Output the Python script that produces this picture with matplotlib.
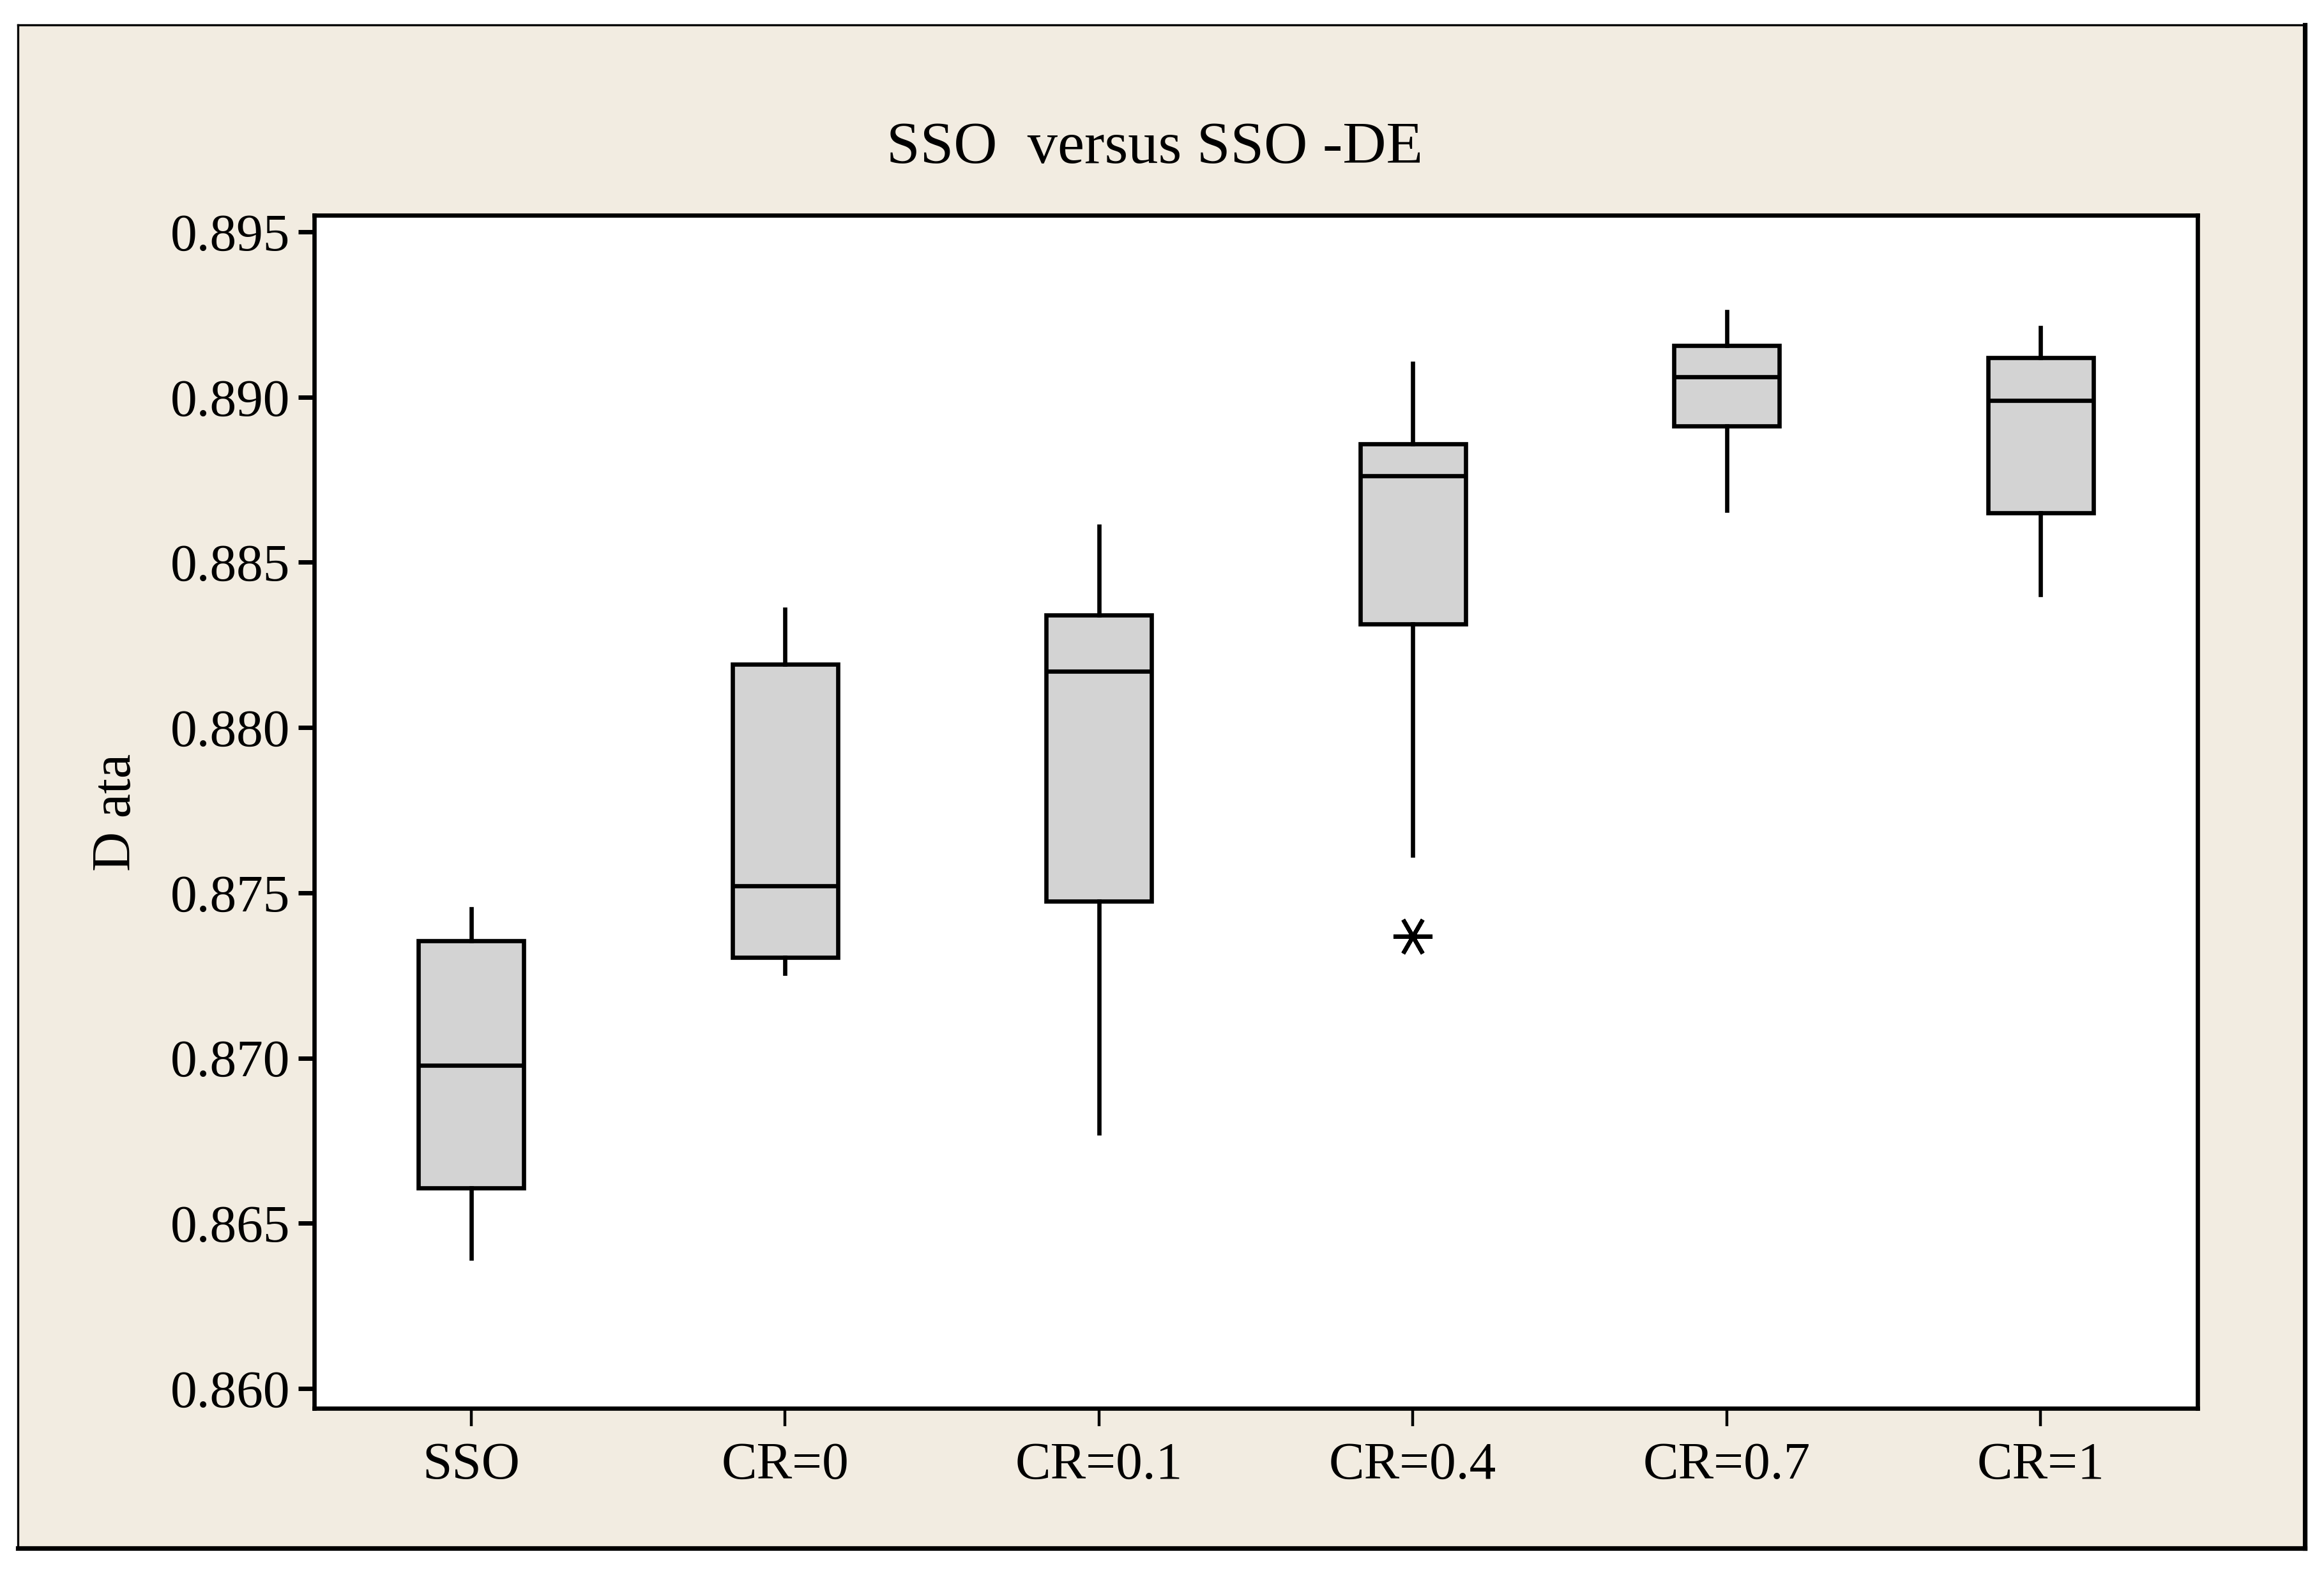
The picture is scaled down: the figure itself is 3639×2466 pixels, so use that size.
import matplotlib
matplotlib.use("Agg")
import matplotlib.pyplot as plt
from matplotlib.lines import Line2D
from matplotlib.patches import Rectangle

# ---- data ----
categories = ["SSO", "CR=0", "CR=0.1", "CR=0.4", "CR=0.7", "CR=1"]
whisker_low = [0.86395, 0.87256, 0.86772, 0.87614, 0.88658, 0.88402]
q1 = [0.86606, 0.87305, 0.87475, 0.88313, 0.88913, 0.88649]
median = [0.86978, 0.87520, 0.88170, 0.88761, 0.89061, 0.88989]
q3 = [0.87354, 0.88192, 0.88340, 0.88859, 0.89155, 0.89119]
whisker_high = [0.87452, 0.88358, 0.88608, 0.89101, 0.89258, 0.89209]
outliers = [[], [], [], [0.87368], [], []]
yticks = [0.860, 0.865, 0.870, 0.875, 0.880, 0.885, 0.890, 0.895]
ytick_labels = ["0.860", "0.865", "0.870", "0.875", "0.880", "0.885", "0.890", "0.895"]

BG = "#F2ECE1"
BOX = "#D3D3D3"
FONT = ["Liberation Serif", "DejaVu Serif"]
plt.rcParams["font.family"] = FONT

W, H = 3639, 2466
fig = plt.figure(figsize=(W / 100, H / 100), dpi=100, facecolor="white")

# outer panel
fig.patches.append(Rectangle((28 / W, 1 - 2424 / H), (3609 - 28) / W, (2424 - 39) / H,
                             transform=fig.transFigure, facecolor=BG, edgecolor="none", zorder=-5))
x0, x1 = 28 / W, 3609 / W
y0, y1 = 1 - 2424 / H, 1 - 39 / H
for xs, ys, lw in [([x0, x0], [y0, y1], 2.4), ([x0, x1], [y1, y1], 2.4),
                   ([x1, x1], [y0, y1], 5.2), ([x0, x1], [y0, y0], 5.2)]:
    fig.lines.append(Line2D(xs, ys, transform=fig.transFigure, color="black", lw=lw, zorder=-4))

ax = fig.add_axes([492 / W, 1 - 2205 / H, (3441 - 492) / W, (2205 - 337) / H])
ax.set_facecolor("white")
ax.set_zorder(2)

stats = []
for i, c in enumerate(categories):
    stats.append(dict(label=c, whislo=whisker_low[i], q1=q1[i], med=median[i],
                      q3=q3[i], whishi=whisker_high[i], fliers=outliers[i]))

positions = list(range(1, len(categories) + 1))
ax.bxp(stats, positions=positions, widths=0.335, patch_artist=True, showcaps=False,
       boxprops=dict(facecolor=BOX, edgecolor="black", linewidth=4.8),
       medianprops=dict(color="black", linewidth=4.8, solid_capstyle="butt"),
       whiskerprops=dict(color="black", linewidth=4.8),
       flierprops=dict(marker=(6, 2, 90), markersize=44, markeredgewidth=4.6,
                       markeredgecolor="black", markerfacecolor="black", linestyle="none"))

ax.set_xlim(0.5, 6.5)
ax.set_ylim(0.8594, 0.8955)
ax.set_yticks(yticks)
ax.set_yticklabels(ytick_labels)
ax.set_xticks(positions)
ax.set_xticklabels(categories)

for s in ax.spines.values():
    s.set_linewidth(4.8)
    s.set_color("black")

ax.tick_params(axis="y", direction="out", length=18, width=5, pad=9, labelsize=60)
ax.tick_params(axis="x", direction="out", length=20, width=3.2, pad=18, labelsize=60)

fig.text(1808 / W, 1 - 255 / H, "SSO  versus SSO -DE", ha="center", va="baseline",
         fontsize=68)
fig.text(183 / W, 1 - 1272 / H, "D ata", rotation=90, ha="center", va="center",
         fontsize=62)

fig.savefig("out.png", dpi=100, facecolor="white")
